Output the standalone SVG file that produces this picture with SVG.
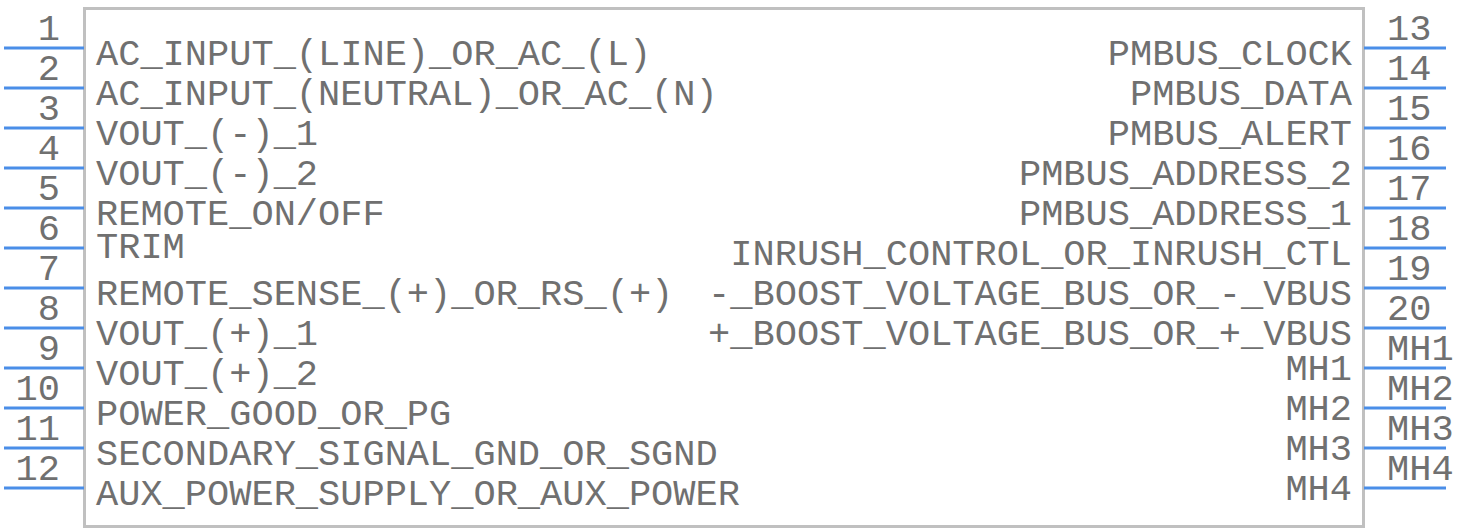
<svg xmlns="http://www.w3.org/2000/svg" width="1466" height="532" viewBox="0 0 1466 532">
<style>
.body{fill:#ffffff;stroke:#c0c0c0;stroke-width:3}
.pin{stroke:#4a8ee8;stroke-width:3;fill:none}
.t{font-family:"Liberation Mono","Courier New",monospace;font-size:37px;fill:#707070}
.l{text-anchor:start}
.r{text-anchor:end}
</style>
<rect width="1466" height="532" fill="#ffffff"/>
<g id="body">
<rect class="body" x="84.5" y="8.5" width="1279" height="518"/>
</g>
<g id="connectors">
<path class="pin" d="M4 48H84M4 88H84M4 128H84M4 168H84M4 208H84M4 248H84M4 288H84M4 328H84M4 368H84M4 408H84M4 448H84M4 488H84"/>
<path class="pin" d="M1364 48H1446M1364 88H1446M1364 128H1446M1364 168H1446M1364 208H1446M1364 248H1446M1364 288H1446M1364 328H1446M1364 368H1446M1364 408H1446M1364 448H1446M1364 488H1446"/>
</g>
<g id="pin-numbers-left" class="t r">
<text class="t r" x="60" y="40">1</text>
<text class="t r" x="60" y="80">2</text>
<text class="t r" x="60" y="120">3</text>
<text class="t r" x="60" y="160">4</text>
<text class="t r" x="60" y="200">5</text>
<text class="t r" x="60" y="240">6</text>
<text class="t r" x="60" y="280">7</text>
<text class="t r" x="60" y="320">8</text>
<text class="t r" x="60" y="360">9</text>
<text class="t r" x="60" y="400">10</text>
<text class="t r" x="60" y="440">11</text>
<text class="t r" x="60" y="480">12</text>
</g>
<g id="pin-numbers-right">
<text class="t l" x="1387" y="40">13</text>
<text class="t l" x="1387" y="80">14</text>
<text class="t l" x="1387" y="120">15</text>
<text class="t l" x="1387" y="160">16</text>
<text class="t l" x="1387" y="200">17</text>
<text class="t l" x="1387" y="240">18</text>
<text class="t l" x="1387" y="280">19</text>
<text class="t l" x="1387" y="320">20</text>
<text class="t l" x="1387" y="360">MH1</text>
<text class="t l" x="1387" y="400">MH2</text>
<text class="t l" x="1387" y="440">MH3</text>
<text class="t l" x="1387" y="480">MH4</text>
</g>
<g id="labels-left">
<text class="t l" x="96" y="65">AC_INPUT_(LINE)_OR_AC_(L)</text>
<text class="t l" x="96" y="105">AC_INPUT_(NEUTRAL)_OR_AC_(N)</text>
<text class="t l" x="96" y="145">VOUT_(-)_1</text>
<text class="t l" x="96" y="185">VOUT_(-)_2</text>
<text class="t l" x="96" y="225">REMOTE_ON/OFF</text>
<text class="t l" x="96" y="258">TRIM</text>
<text class="t l" x="96" y="305">REMOTE_SENSE_(+)_OR_RS_(+)</text>
<text class="t l" x="96" y="345">VOUT_(+)_1</text>
<text class="t l" x="96" y="385">VOUT_(+)_2</text>
<text class="t l" x="96" y="425">POWER_GOOD_OR_PG</text>
<text class="t l" x="96" y="465">SECONDARY_SIGNAL_GND_OR_SGND</text>
<text class="t l" x="96" y="505">AUX_POWER_SUPPLY_OR_AUX_POWER</text>
</g>
<g id="labels-right">
<text class="t r" x="1352" y="65">PMBUS_CLOCK</text>
<text class="t r" x="1352" y="105">PMBUS_DATA</text>
<text class="t r" x="1352" y="145">PMBUS_ALERT</text>
<text class="t r" x="1352" y="185">PMBUS_ADDRESS_2</text>
<text class="t r" x="1352" y="225">PMBUS_ADDRESS_1</text>
<text class="t r" x="1352" y="265">INRUSH_CONTROL_OR_INRUSH_CTL</text>
<text class="t r" x="1352" y="305">-_BOOST_VOLTAGE_BUS_OR_-_VBUS</text>
<text class="t r" x="1352" y="345">+_BOOST_VOLTAGE_BUS_OR_+_VBUS</text>
<text class="t r" x="1352" y="380">MH1</text>
<text class="t r" x="1352" y="420">MH2</text>
<text class="t r" x="1352" y="460">MH3</text>
<text class="t r" x="1352" y="500">MH4</text>
</g>
</svg>
